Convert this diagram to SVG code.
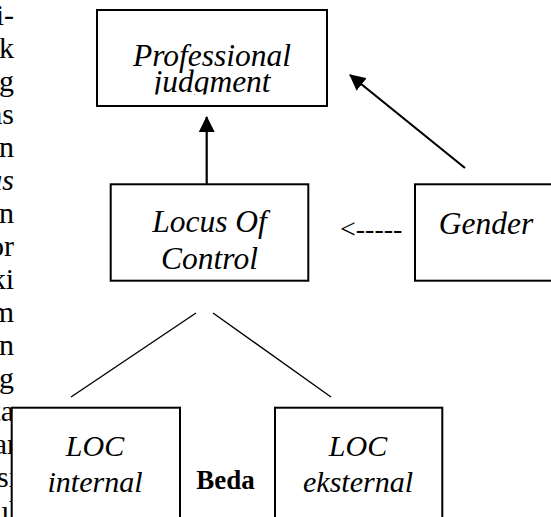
<svg xmlns="http://www.w3.org/2000/svg" width="551" height="517" viewBox="0 0 551 517">
<style>
.box{fill:#fff;stroke:#000;stroke-width:2}
.conn{stroke:#000;fill:none}
</style>
<defs>
<marker id="ah" markerUnits="userSpaceOnUse" markerWidth="17" markerHeight="16" refX="15" refY="8" orient="auto" viewBox="0 0 17 16">
<path d="M0,0 L16,8 L0,16 z" fill="#000"/>
</marker>
<clipPath id="pjclip"><rect x="0" y="0" width="551" height="94.5"/></clipPath>
</defs>
<rect width="551" height="517" fill="#fff"/>
<g id="margin-text" font-family="Liberation Serif, serif" font-size="30" text-anchor="end" fill="#000">
<text x="14" y="25">i-</text>
<text x="14" y="58">k</text>
<text x="14" y="91">g</text>
<text x="14" y="124">as</text>
<text x="14" y="157">n</text>
<text x="14" y="190" font-style="italic">us</text>
<text x="14" y="223">n</text>
<text x="14" y="256">or</text>
<text x="14" y="289">ki</text>
<text x="14" y="322">m</text>
<text x="14" y="355">n</text>
<text x="14" y="388">g</text>
<text x="14" y="421">ta</text>
<text x="17" y="454">ar</text>
<text x="17" y="487">si</text>
<text x="17" y="521">ul</text>
</g>
<g id="connectors">
<line class="conn" stroke-width="2.2" x1="206.7" y1="184" x2="206.7" y2="117" marker-end="url(#ah)"/>
<line class="conn" stroke-width="2.2" x1="465" y1="168" x2="350" y2="75" marker-end="url(#ah)"/>
<line class="conn" stroke-width="1.4" x1="196" y1="313" x2="71" y2="397"/>
<line class="conn" stroke-width="1.4" x1="213" y1="313" x2="331" y2="397"/>
<text x="340" y="238" font-family="Liberation Serif, serif" font-size="28">&lt;-----</text>
</g>
<g id="professional-judgment" font-family="Liberation Serif, serif" font-style="italic" font-size="31.5" text-anchor="middle">
<rect class="box" x="97" y="10" width="230" height="96"/>
<text x="212" y="66">Professional</text>
<text x="212" y="91.5" clip-path="url(#pjclip)">judgment</text>
</g>
<g id="locus-of-control" font-family="Liberation Serif, serif" font-style="italic" font-size="31.5" text-anchor="middle">
<rect class="box" x="110.7" y="184.3" width="197.6" height="96.4"/>
<text x="209.5" y="232">Locus Of</text>
<text x="209.5" y="268.5">Control</text>
</g>
<g id="gender" font-family="Liberation Serif, serif" font-style="italic" font-size="31.5" text-anchor="middle">
<rect class="box" x="415" y="184.3" width="150" height="96.4"/>
<text x="486" y="234">Gender</text>
</g>
<g id="loc-internal" font-family="Liberation Serif, serif" font-style="italic" font-size="30" text-anchor="middle">
<rect class="box" x="11.7" y="407.7" width="168.3" height="120"/>
<text x="95" y="456">LOC</text>
<text x="95" y="491.5">internal</text>
</g>
<g id="beda">
<text x="225.5" y="489.3" font-family="Liberation Serif, serif" font-weight="bold" font-size="27" text-anchor="middle">Beda</text>
</g>
<g id="loc-eksternal" font-family="Liberation Serif, serif" font-style="italic" font-size="30" text-anchor="middle">
<rect class="box" x="275" y="407.7" width="167.3" height="120"/>
<text x="358" y="456">LOC</text>
<text x="358" y="491.5">eksternal</text>
</g>
</svg>
